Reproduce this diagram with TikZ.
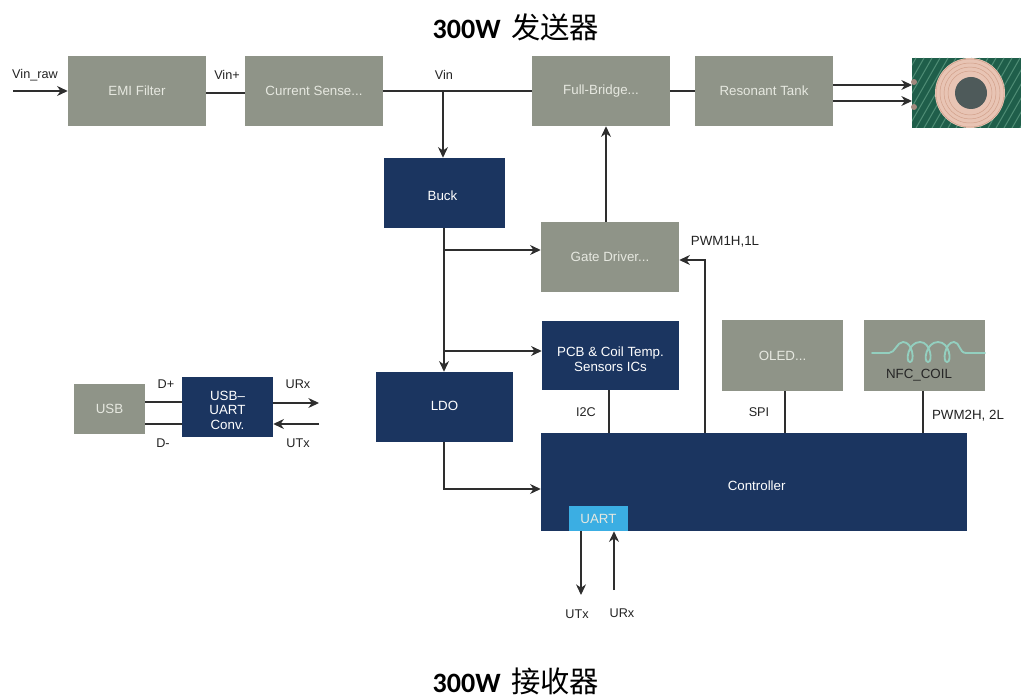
\documentclass[tikz,border=0pt]{standalone}
\usepackage{fontspec}
\setmainfont{Liberation Sans}
\newfontfamily\titlelat{Carlito}
\newfontfamily\titlecjk{Noto Sans CJK SC}
\usetikzlibrary{arrows.meta,calc}
\definecolor{greybox}{HTML}{8F9488}
\definecolor{navybox}{HTML}{1B3560}
\definecolor{uartblue}{HTML}{3BAEE3}
\definecolor{linecol}{HTML}{2E2E2E}
\definecolor{lighttext}{HTML}{E6E8E0}
\definecolor{coilteal}{HTML}{93CFBF}
\definecolor{pcbgreen}{HTML}{1F5E4A}
\definecolor{pcbstripe}{HTML}{4E8C74}
\definecolor{copper}{HTML}{E8C4B4}
\definecolor{copperd}{HTML}{D09E88}
\definecolor{coilcore}{HTML}{4E5A5A}
\definecolor{labelcol}{HTML}{222222}
\newcommand{\pbox}[7]{\node[#6,minimum width={(#4-#2)*0.75pt},minimum height={(#5-#3)*0.75pt}] (#1) at ({(#2+#4)/2},{(#3+#5)/2}) {#7};}
\newcommand{\lowered}[2]{\raisebox{-#1}[0pt][0pt]{\begin{tabular}{@{}c@{}}#2\end{tabular}}}
\tikzset{
  greyblock/.style={fill=greybox,inner sep=0pt,text=lighttext,font=\fontsize{10pt}{12pt}\selectfont,align=center},
  navyblock/.style={fill=navybox,inner sep=0pt,text=white,font=\fontsize{10pt}{12pt}\selectfont,align=center},
  uartblock/.style={fill=uartblue,inner sep=0pt,text=lighttext,font=\fontsize{10pt}{12pt}\selectfont},
  wire/.style={draw=linecol,line width=0.8pt},
  arrowwire/.style={wire,-{Stealth[length=8pt,width=7.5pt]}},
  lbl/.style={text=labelcol,font=\fontsize{9.5pt}{11pt}\selectfont,inner sep=0pt},
  lblbig/.style={lbl,font=\fontsize{10pt}{12pt}\selectfont},
  titletext/.style={text=black,inner sep=0pt}
}
\begin{document}
\begin{tikzpicture}[x=0.75pt,y=-0.75pt]
\useasboundingbox (0,0) rectangle (1021,698);
% titles
\node[titletext] (t1) at (516,27) {{\titlelat\bfseries\fontsize{21pt}{24pt}\selectfont 300W}\hspace{8pt}{\titlecjk\fontsize{22pt}{24pt}\selectfont 发送器}};
\node[titletext] (t2) at (516,681) {{\titlelat\bfseries\fontsize{21pt}{24pt}\selectfont 300W}\hspace{8pt}{\titlecjk\fontsize{22pt}{24pt}\selectfont 接收器}};
% blocks
\pbox{emi}{68}{56}{206}{126}{greyblock}{EMI Filter}
\pbox{cs}{245}{56}{383}{126}{greyblock}{Current Sense...}
\pbox{fb}{532}{56}{670}{126}{greyblock}{Full-Bridge...}
\pbox{rt}{695}{56}{833}{126}{greyblock}{Resonant Tank}
\pbox{buck}{384}{158}{505}{228}{navyblock}{\hspace*{-3pt}\lowered{5.75pt}{Buck}}
\pbox{gate}{541}{222}{679}{292}{greyblock}{Gate Driver...}
\pbox{pcb}{542}{321}{679}{390}{navyblock}{\lowered{6.25pt}{PCB \& Coil Temp.\\[-1pt]Sensors ICs}}
\pbox{oled}{722}{320}{843}{391}{greyblock}{OLED...}
\pbox{nfc}{864}{320}{985}{391}{greyblock}{}
\pbox{ldo}{376}{372}{513}{442}{navyblock}{\lowered{2.75pt}{LDO}}
\pbox{ctrl}{541}{433}{967}{531}{navyblock}{\hspace*{4pt}\lowered{6.25pt}{Controller}}
\pbox{uart}{569}{506}{628}{531}{uartblock}{UART}
\pbox{usb}{74}{384}{145}{434}{greyblock}{USB}
\pbox{conv}{182}{377}{273}{437}{navyblock}{\lowered{6pt}{USB--\\[-1pt]UART\\[-1pt]Conv.}}
% NFC inductor symbol
\draw[coilteal,line width=1.4pt,line cap=round] (872,353) -- (889,353) .. controls (895,353) and (897,342) .. (903,342)
  .. controls (913,342) and (915,362) .. (910,362) .. controls (905,362) and (908,342) .. (920,342)
  .. controls (931,342) and (933,362) .. (928,362) .. controls (923,362) and (926,342) .. (938,342)
  .. controls (950,342) and (952,362) .. (947,362) .. controls (942,362) and (945,342) .. (954,342)
  .. controls (960,342) and (959,353) .. (966,353) -- (985,353);
\node[lblbig,text=black!85] (nfclabel) at (919,375) {NFC\_COIL};
% coil picture
\fill[pcbgreen] (912,58) rectangle (1021,128);
\begin{scope}
  \clip (912,58) rectangle (1021,128);
  \foreach \k in {0,8,...,176}{
    \draw[pcbstripe,line width=0.8pt] ({900+\k},58) -- ({900+\k-40},128);
  }
\end{scope}
\fill[copper] (970,93) circle[radius=35];
\foreach \r in {34,30,26,22}{\draw[copperd,line width=0.35pt] (970,93) circle[radius=\r];}
\fill[coilcore] (971,93) circle[radius=16];
\foreach \p/\q in {914/82,914/107}{\fill[black!30!copper] (\p,\q) circle[radius=3];}
% input and free ends
\coordinate (vinraw) at (13,91);
\coordinate (coilA) at (912,85);
\coordinate (coilB) at (912,101);
\coordinate (j1) at (443,91);
\coordinate (j2) at (444,250);
\coordinate (j3) at (444,351);
\coordinate (j4) at (444,489);
\coordinate (pwm) at (705,260);
\coordinate (urxout) at (319,403);
\coordinate (utxin) at (319,424);
\coordinate (utxb) at (581,595);
\coordinate (urxb) at (614,590);
% connectors
\draw[arrowwire] (vinraw) -- (emi.west);
\draw[wire] (emi.east |- 0,93) -- (cs.west |- 0,93);
\draw[wire] (cs.east) -- (fb.west);
\draw[wire] (fb.east) -- (rt.west);
\draw[arrowwire] (rt.east |- coilA) -- (coilA);
\draw[arrowwire] (rt.east |- coilB) -- (coilB);
\draw[arrowwire] (j1) -- (j1 |- buck.north);
\draw[arrowwire] (j2 |- buck.south) -- (j2 |- ldo.north);
\draw[arrowwire] (j2) -- (j2 -| gate.west);
\draw[arrowwire] (j3) -- (j3 -| pcb.west);
\draw[arrowwire] (j4 |- ldo.south) -- (j4) -- (j4 -| ctrl.west);
\draw[arrowwire] (gate.north -| 606,0) -- (fb.south -| 606,0);
\draw[arrowwire] (pwm |- ctrl.north) -- (pwm) -- (pwm -| gate.east);
\draw[wire] (pcb.south -| 609,0) -- (ctrl.north -| 609,0);
\draw[wire] (oled.south -| 785,0) -- (ctrl.north -| 785,0);
\draw[wire] (nfc.south -| 923,0) -- (ctrl.north -| 923,0);
\draw[wire] (usb.east |- 0,402) -- (conv.west |- 0,402);
\draw[wire] (usb.east |- 0,424) -- (conv.west |- 0,424);
\draw[arrowwire] (conv.east |- urxout) -- (urxout);
\draw[arrowwire] (utxin) -- (conv.east |- utxin);
\draw[arrowwire] (utxb |- uart.south) -- (utxb);
\draw[arrowwire] (urxb) -- (urxb |- uart.south);
% labels
\node[lbl] (l1) at (35,75) {Vin\_raw};
\node[lbl] (l2) at (227,75) {Vin+};
\node[lbl] (l3) at (444,75) {Vin};
\node[lblbig] (l4) at (725,242) {PWM1H,1L};
\node[lbl] (l5) at (586,412) {I2C};
\node[lbl] (l6) at (759,412) {SPI};
\node[lblbig] (l7) at (968,416) {PWM2H, 2L};
\node[lbl] (l8) at (166,384) {D+};
\node[lbl] (l9) at (163,443) {D-};
\node[lbl] (l10) at (298,384) {URx};
\node[lbl] (l11) at (298,443) {UTx};
\node[lbl] (l12) at (577,614) {UTx};
\node[lbl] (l13) at (622,613) {URx};
\end{tikzpicture}
\end{document}
